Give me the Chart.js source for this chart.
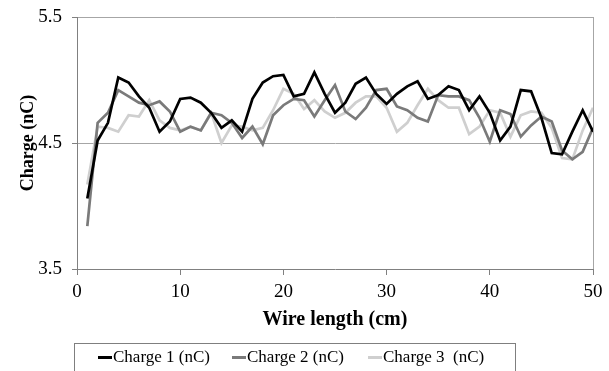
<!DOCTYPE html>
<html><head><meta charset="utf-8">
<script src="https://cdn.jsdelivr.net/npm/chart.js@4.4.1/dist/chart.umd.min.js"></script>
<style>
html,body{margin:0;padding:0;background:#fff;}
#wrap{position:relative;width:609px;height:371px;overflow:hidden;}
#legend{position:absolute;left:74px;top:343px;width:442px;height:40px;border:1px solid #7f7f7f;box-sizing:border-box;font-family:'Liberation Serif',serif;font-size:17px;color:#000;}
.item{position:absolute;top:3px;white-space:pre;line-height:20px;}
.sw{display:inline-block;width:14px;height:3px;vertical-align:middle;margin-right:1px;position:relative;top:-1px;}
</style></head><body>
<div id="wrap"><canvas id="c" width="609" height="371"></canvas><div id="legend"></div></div>
<script>
const wireLength = [1,2,3,4,5,6,7,8,9,10,11,12,13,14,15,16,17,18,19,20,21,22,23,24,25,26,27,28,29,30,31,32,33,34,35,36,37,38,39,40,41,42,43,44,45,46,47,48,49,50];
const charge1 = [4.06,4.52,4.66,5.02,4.98,4.87,4.78,4.59,4.67,4.85,4.86,4.82,4.74,4.62,4.68,4.59,4.85,4.98,5.03,5.04,4.87,4.89,5.06,4.89,4.74,4.82,4.97,5.02,4.89,4.81,4.89,4.95,4.99,4.85,4.88,4.95,4.92,4.76,4.87,4.74,4.52,4.63,4.92,4.91,4.70,4.42,4.41,4.59,4.76,4.59];
const charge2 = [3.84,4.66,4.74,4.92,4.87,4.82,4.80,4.83,4.75,4.59,4.63,4.60,4.74,4.72,4.66,4.54,4.63,4.49,4.72,4.80,4.85,4.84,4.71,4.84,4.96,4.75,4.69,4.78,4.92,4.93,4.79,4.76,4.70,4.67,4.88,4.87,4.87,4.84,4.70,4.51,4.76,4.73,4.55,4.64,4.71,4.67,4.44,4.37,4.43,4.62];
const charge3 = [4.17,4.63,4.62,4.59,4.72,4.71,4.84,4.68,4.62,4.60,4.63,4.60,4.74,4.50,4.64,4.63,4.60,4.62,4.76,4.93,4.89,4.77,4.84,4.75,4.70,4.74,4.82,4.87,4.87,4.78,4.59,4.66,4.80,4.93,4.84,4.78,4.78,4.57,4.63,4.76,4.74,4.55,4.72,4.75,4.74,4.62,4.38,4.37,4.60,4.78];
const seriesNames = ['Charge 1 (nC)','Charge 2 (nC)','Charge 3  (nC)'];
const seriesColors = ['#000000','#7a7a7a','#cfcfcf'];
const yTicks = [3.5,4.5,5.5];
const xTicks = [0,10,20,30,40,50];

const serif = "'Liberation Serif', 'Times New Roman', serif";
const toPts = arr => arr.map((v,i)=>({x: wireLength[i], y: v}));
const datasets = [charge1,charge2,charge3].map((arr,k)=>({
  label: seriesNames[k], data: toPts(arr), borderColor: seriesColors[k], backgroundColor: seriesColors[k],
  borderWidth: 2.7, pointRadius: 0, tension: 0, fill: false
}));

new Chart(document.getElementById('c'), {
  type: 'line',
  data: { datasets },
  options: {
    responsive: false, animation: false,
    layout: { padding: { top: 17, right: 16, left: 0, bottom: 36 } },
    plugins: { legend: { display: false }, tooltip: { enabled: false } },
    scales: {
      x: {
        type: 'linear', min: 0, max: 50,
        afterBuildTicks: s => { s.ticks = xTicks.map(v=>({value:v})); },
        afterFit: s => { s.height = 66; s.paddingLeft = 0; s.paddingRight = 0; },
        ticks: { font: { family: serif, size: 19 }, color: '#000', padding: 6 },
        grid: { color: c => c.tick && c.tick.value === 50 ? '#a6a6a6' : 'rgba(0,0,0,0)', tickColor: '#808080', tickLength: 6, drawOnChartArea: true },
        border: { color: '#808080', width: 1 },
        title: { display: true, text: 'Wire length (cm)', font: { family: serif, size: 20, weight: 'bold' }, color: '#000', padding: { top: 0, bottom: 3 } }
      },
      y: {
        min: 3.5, max: 5.5,
        afterBuildTicks: s => { s.ticks = yTicks.map(v=>({value:v})); },
        afterFit: s => { s.width = 77; s.paddingTop = 0; s.paddingBottom = 0; },
        ticks: { font: { family: serif, size: 19 }, color: '#000', padding: 10, callback: v => Number(v).toFixed(1) },
        grid: { color: c => c.tick && c.tick.value > 3.6 ? '#a6a6a6' : 'rgba(0,0,0,0)', tickColor: '#808080', tickLength: 5 },
        border: { color: '#808080', width: 1 },
        title: { display: true, text: 'Charge (nC)', font: { family: serif, size: 18, weight: 'bold' }, color: '#000', padding: { top: 18, bottom: 0 } }
      }
    }
  }
});

const lg = document.getElementById('legend');
const itemLeft = [23, 157, 293];
seriesNames.forEach((n,k)=>{
  const d = document.createElement('div');
  d.className = 'item';
  d.style.left = itemLeft[k] + 'px';
  const sw = document.createElement('span');
  sw.className = 'sw'; sw.style.background = seriesColors[k];
  d.appendChild(sw);
  d.appendChild(document.createTextNode(n));
  lg.appendChild(d);
});
</script>
</body></html>
